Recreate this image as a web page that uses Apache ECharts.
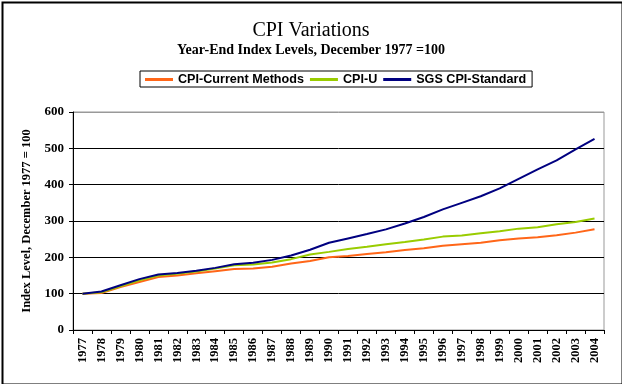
<!DOCTYPE html>
<html><head><meta charset="utf-8">
<script src="https://cdn.jsdelivr.net/npm/echarts@6/dist/echarts.min.js"></script>
<style>html,body{margin:0;padding:0;background:#fff}#c{width:622px;height:384px}</style>
</head><body><div id="c"></div>
<script>
const years = ['1977','1978','1979','1980','1981','1982','1983','1984','1985','1986','1987','1988','1989','1990','1991','1992','1993','1994','1995','1996','1997','1998','1999','2000','2001','2002','2003','2004'];
const cpiCurrent = [100,102,118,132,146,150,156,162,168,169,174,183,190,200,204,209,214,220,225,232,236,240,247,252,255,261,268,277];
const cpiU = [100,104,120,137,150,155,161,169,178,180,186,195,208,215,223,229,236,242,249,257,260,266,272,279,283,291,297,307];
const sgs = [100,106,123,140,153,157,163,171,181,185,193,205,221,240,252,264,277,293,311,332,350,368,390,416,442,467,497,526];
const yTicks = ['0','100','200','300','400','500','600'];

const serif = 'Liberation Serif';
const sans = 'Liberation Sans';
const chart = echarts.init(document.getElementById('c'));
chart.setOption({
  animation: false,
  backgroundColor: '#fff',
  graphic: [{type:'rect', left:0, top:0, shape:{x:1,y:1,width:620,height:382}, style:{fill:'none', stroke:'#000', lineWidth:2}, silent:true}],
  title: [
    {text:'CPI Variations', left:'center', top:16, textStyle:{fontFamily:serif, fontSize:20, fontWeight:'normal', color:'#000'}},
    {text:'Year-End Index Levels, December 1977 =100', left:'center', top:38, textStyle:{fontFamily:serif, fontSize:14, fontWeight:'bold', color:'#000'}}
  ],
  legend: {
    left:140, top:71, padding:[2,6,1,5], itemGap:6, itemWidth:28, itemHeight:3,
    borderColor:'#000', borderWidth:1, icon:'rect',
    textStyle:{fontFamily:sans, fontSize:12.6, fontWeight:'bold', color:'#000'},
    data:['CPI-Current Methods','CPI-U','SGS CPI-Standard']
  },
  grid: {left:73, right:18, top:112, bottom:54, show:true, borderColor:'#999', borderWidth:1},
  xAxis: {
    type:'category', data:years, boundaryGap:true,
    axisLine:{lineStyle:{color:'#000', width:1}},
    axisTick:{show:true, alignWithLabel:false, length:4, lineStyle:{color:'#000'}},
    axisLabel:{rotate:90, interval:0, fontFamily:serif, fontSize:12.5, fontWeight:'bold', color:'#000', margin:8}
  },
  yAxis: {
    type:'value', min:0, max:600, interval:100,
    name:'Index Level, December 1977 = 100', nameLocation:'middle', nameGap:40,
    nameTextStyle:{fontFamily:serif, fontSize:12.5, fontWeight:'bold', color:'#000'},
    axisLine:{show:true, lineStyle:{color:'#000'}},
    axisTick:{show:true, length:4, lineStyle:{color:'#000'}},
    axisLabel:{fontFamily:serif, fontSize:13, fontWeight:'bold', color:'#000', margin:9,
      formatter:(v)=>yTicks[Math.round(v/100)]},
    splitLine:{show:true, lineStyle:{color:['#000','#000','#000','#000','#000','#000','#999'], width:1}}
  },
  series: [
    {name:'CPI-Current Methods', type:'line', data:cpiCurrent, symbol:'none', lineStyle:{width:2, color:'#FF6618'}, itemStyle:{color:'#FF6618'}},
    {name:'CPI-U', type:'line', data:cpiU, symbol:'none', lineStyle:{width:2, color:'#99CC00'}, itemStyle:{color:'#99CC00'}},
    {name:'SGS CPI-Standard', type:'line', data:sgs, symbol:'none', lineStyle:{width:2, color:'#000080'}, itemStyle:{color:'#000080'}}
  ]
});
</script></body></html>
